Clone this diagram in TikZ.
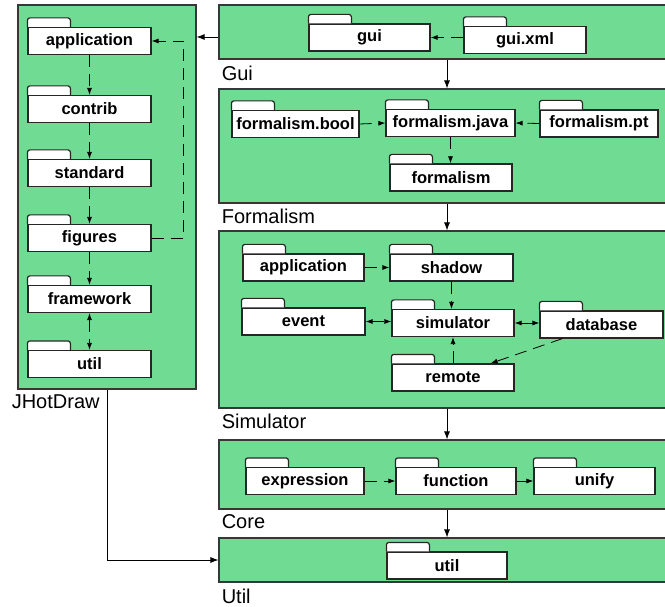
\documentclass[tikz,border=0pt]{standalone}
\usepackage{fontspec}
\setmainfont{Liberation Sans}
\usetikzlibrary{arrows.meta, positioning, calc}
\definecolor{pkg_green}{RGB}{112, 219, 147}
\definecolor{edge_gray}{RGB}{55, 55, 55}
\begin{document}
\begin{tikzpicture}[
    x=1pt, y=-1pt,
    % Styles
    line width=0.8pt,
    container/.style={
        rectangle,
        draw=edge_gray,
        fill=pkg_green,
        line width=1.2pt,
        minimum width=456pt,
        inner sep=0pt
    },
    pkg/.style={
        rectangle,
        draw=black!85,
        fill=white,
        line width=1.2pt,
        minimum width=122pt,
        minimum height=27pt,
        inner sep=0pt,
        font=\bfseries\fontsize{16.5}{18}\selectfont
    },
    pkgtab/.style={
        draw=black!85,
        fill=white,
        line width=1.2pt,
        rounded corners=2.5pt
    },
    pkgname/.style={
        anchor=north west,
        inner sep=0pt,
        font=\fontsize{20}{22}\selectfont
    },
    dep/.style={-{Latex[length=7pt,width=5pt]}, dash pattern=on 12pt off 7pt},
    depboth/.style={{Latex[length=7pt,width=5pt]}-{Latex[length=7pt,width=5pt]}, dash pattern=on 12pt off 7pt},
    uses/.style={-{Latex[length=8pt,width=6pt]}}
]
\useasboundingbox (0,0) rectangle (665,607);
\clip (0,0) rectangle (665,607);

% --- CONTAINERS ---
\node[container, minimum width=178pt, minimum height=384pt] (jhd) at (107,197) {};
\node[container, minimum height=54pt] (gui) at (447,32) {};
\node[container, minimum height=114pt] (form) at (447,146) {};
\node[container, minimum height=177pt] (sim) at (447,319.5) {};
\node[container, minimum height=69pt] (core) at (447,474.5) {};
\node[container, minimum height=44pt] (utl) at (447,560) {};

\node[pkgname] at ($(jhd.south west)+(-6,5)$) {JHotDraw};
\node[pkgname] at ($(gui.south west)+(3,6)$) {Gui};
\node[pkgname] at ($(form.south west)+(3,5)$) {Formalism};
\node[pkgname] at ($(sim.south west)+(3,5)$) {Simulator};
\node[pkgname] at ($(core.south west)+(3,5)$) {Core};
\node[pkgname] at ($(utl.south west)+(3,6)$) {Util};

% --- PACKAGES ---
% 1. JHotDraw
\node[pkg, minimum width=123pt] (japp) at (89.5,41) {application};
\node[pkg, minimum width=123pt] (jcontrib) at (89.5,109) {contrib};
\node[pkg, minimum width=123pt] (jstandard) at (89.5,173) {standard};
\node[pkg, minimum width=123pt] (jfigures) at (89.5,238) {figures};
\node[pkg, minimum width=123pt] (jframework) at (89.5,299) {framework};
\node[pkg, minimum width=123pt] (jutil) at (89.5,364) {util};

% 2. Gui
\node[pkg, minimum width=121pt] (guipkg) at (369.5,37.5) {gui};
\node[pkg] (guixml) at (525,40) {gui.xml};

% 3. Formalism
\node[pkg, minimum width=127pt] (fbool) at (295.5,124) {formalism.bool};
\node[pkg, minimum width=129pt] (fjava) at (450.5,123) {formalism.java};
\node[pkg, minimum width=118pt] (fpt) at (599,123.5) {formalism.pt};
\node[pkg] (fbase) at (451,177.5) {formalism};

% 4. Simulator
\node[pkg, minimum width=121pt] (sapp) at (303.5,267.5) {application};
\node[pkg, minimum width=123pt] (sshadow) at (451.5,267.5) {shadow};
\node[pkg, minimum width=123pt] (sevent) at (303.5,321.5) {event};
\node[pkg] (ssim) at (453,323) {simulator};
\node[pkg, minimum width=123pt] (sdb) at (601.5,324.5) {database};
\node[pkg] (sremote) at (453,377.5) {remote};

% 5. Core
\node[pkg, minimum width=118pt] (cexpr) at (305,481) {expression};
\node[pkg, minimum width=120pt] (cfunc) at (456,481) {function};
\node[pkg, minimum width=121pt] (cunify) at (594.5,481) {unify};

% 6. Util
\node[pkg, minimum width=120pt] (uutil) at (447,565.5) {util};

% folder tabs
\foreach \n in {japp,jcontrib,jstandard,jfigures,jframework,jutil,guipkg,guixml,
                fbool,fjava,fpt,fbase,sapp,sshadow,sevent,ssim,sdb,sremote,
                cexpr,cfunc,cunify,uutil}
    \draw[pkgtab] (\n.north west) -- ++(0,-9) -- ++(43,0) -- ++(0,9);

% --- DEPENDENCIES ---
% JHotDraw chain
\draw[dep] (japp.south) -- (jcontrib.north);
\draw[dep] (jcontrib.south) -- (jstandard.north);
\draw[dep] (jstandard.south) -- (jfigures.north);
\draw[dep] (jfigures.south) -- (jframework.north);
\draw[depboth] (jframework.south) -- (jutil.north);
\draw[dep] (jfigures.east) -- ++(32,0) |- (japp.east);

% Gui
\draw[dep] (guixml.west |- guipkg.east) -- (guipkg.east);

% Formalism
\draw[dep] (fbool.east) -- (fjava.west);
\draw[dep] (fpt.west) -- (fjava.east);
\draw[dep] (fjava.south) -- (fjava.south |- fbase.north);

% Simulator
\draw[dep] (sapp.east) -- (sshadow.west);
\draw[dep] (sshadow.south) -- (sshadow.south |- ssim.north);
\draw[depboth] (sevent.east) -- (sevent.east -| ssim.west);
\draw[depboth] (ssim.east) -- (ssim.east -| sdb.west);
\draw[dep] (sremote.north) -- (ssim.south);
\draw[dep] ([xshift=23pt]sdb.south west) -- ([xshift=-24pt]sremote.north east);

% Core
\draw[dep] (cexpr.east) -- (cfunc.west);
\draw[dep] (cfunc.east) -- (cunify.west);

% --- LAYER ARROWS ---
\draw[uses] ([yshift=-5pt]gui.west) -- ([yshift=-5pt]gui.west -| jhd.east);
\draw[uses] (gui.south) -- (form.north);
\draw[uses] (form.south) -- (sim.north);
\draw[uses] (sim.south) -- (core.north);
\draw[uses] (core.south) -- (utl.north);
\draw[uses] (jhd.south) |- (utl.west);

\end{tikzpicture}
\end{document}
